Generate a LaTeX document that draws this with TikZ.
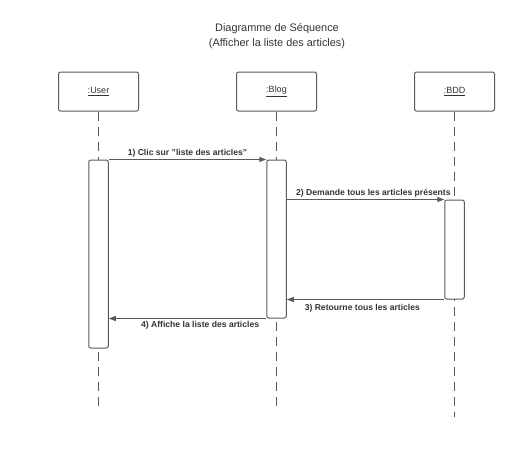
\documentclass[tikz,border=0pt]{standalone}
\usepackage{fontspec}
\setmainfont{Liberation Sans}
\usetikzlibrary{positioning, arrows.meta}
\definecolor{linegray}{HTML}{5A5A5A}
\definecolor{textgray}{HTML}{333333}

\begin{document}
\begin{tikzpicture}[x=1pt, y=-1pt,
    head/.style={draw=linegray, line width=1pt, rounded corners=2pt, fill=white,
        minimum width=80pt, minimum height=39pt, text=textgray, font=\fontsize{9}{10}\selectfont},
    act/.style={draw=linegray, line width=1pt, rounded corners=2pt, fill=white,
        minimum width=19.5pt, inner sep=0pt},
    life/.style={draw=linegray, line width=0.8pt, dash pattern=on 9pt off 6pt},
    msg/.style={draw=linegray, line width=1pt, -{Triangle[length=7pt, width=5pt]}},
    lbl/.style={text=textgray, font=\fontsize{8.6}{10}\selectfont\bfseries, inner sep=1.5pt}]
    \useasboundingbox (0,0) rectangle (512,453);
    \node[text=textgray, align=center, font=\fontsize{10.9}{14.5}\selectfont] (title) at (277,36)
        {Diagramme de Séquence\\(Afficher la liste des articles)};
    % objets
    \node[head] (user) at (98.5,91.5) {\underline{:User}};
    \node[head] (blog) at (276.5,91.5) {\underline{:Blog}};
    \node[head] (bdd) at (454.5,91.5) {\underline{:BDD}};
    % lignes de vie
    \coordinate (userEnd) at (98.5,407);
    \coordinate (blogEnd) at (276.5,407);
    \coordinate (bddEnd) at (454.5,417);
    \draw[life] (user.south) -- (userEnd);
    \draw[life] (blog.south) -- (blogEnd);
    \draw[life] (bdd.south) -- (bddEnd);
    % activations
    \node[act, minimum height=188pt] (userAct) at (98.5,254) {};
    \node[act, minimum height=158pt] (blogAct) at (276.5,239) {};
    \node[act, minimum height=99pt] (bddAct) at (454.5,249.5) {};
    % messages
    \draw[msg] (userAct.north east) -- node[above, lbl] {1) Clic sur "liste des articles"} (userAct.north east -| blogAct.west);
    \draw[msg] (blogAct.east |- bddAct.north) -- node[above, lbl, pos=0.55] {2) Demande tous les articles présents} (bddAct.north west);
    \draw[msg] (bddAct.south west) -- node[below=3pt, lbl, pos=0.52] {3) Retourne tous les articles} (blogAct.east |- bddAct.south);
    \draw[msg] (blogAct.south west) -- node[below=1pt, lbl, pos=0.42] {4) Affiche la liste des articles} (userAct.east |- blogAct.south);
\end{tikzpicture}
\end{document}
